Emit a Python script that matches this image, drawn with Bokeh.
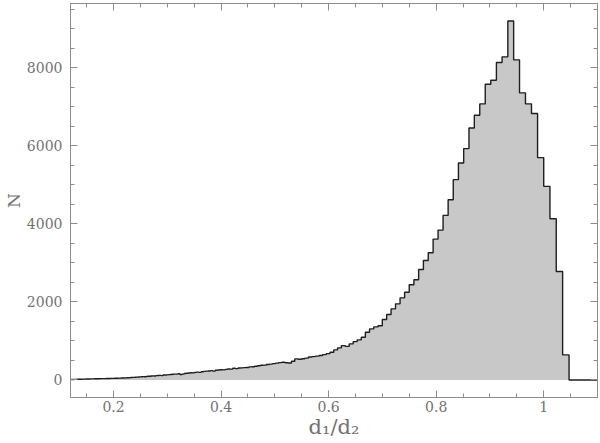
import numpy as np
from bokeh.plotting import figure
from bokeh.models import LinearAxis, FixedTicker, CustomJSTickFormatter
from bokeh.embed import file_html
from bokeh.resources import INLINE

# Histogram bins are uniform in log10(d1/d2)
LOG_BIN_START = -0.925
LOG_BIN_WIDTH = 0.005

counts = [
    10, 11, 12, 11, 13, 13, 14, 15, 14, 16, 16, 17, 18, 17, 19,
    19, 21, 20, 22, 23, 23, 24, 26, 25, 27, 27, 28, 27, 29, 30,
    30, 31, 32, 31, 33, 33, 34, 35, 34, 36, 36, 38, 37, 39, 40,
    40, 42, 44, 43, 46, 47, 49, 51, 50, 54, 55, 58, 60, 63, 65,
    67, 70, 72, 76, 78, 80, 84, 82, 90, 93, 95, 100, 104, 102, 112,
    115, 118, 112, 125, 128, 130, 136, 140, 145, 148, 150, 158, 140, 150, 165,
    170, 178, 185, 182, 195, 200, 195, 210, 220, 225, 230, 238, 226, 250, 255,
    262, 258, 270, 282, 278, 298, 290, 305, 310, 315, 320, 335, 340, 350, 362,
    375, 380, 395, 405, 418, 430, 445, 455, 440, 435, 480, 540, 530, 545, 560,
    590, 598, 610, 625, 650, 675,
    709, 770, 822, 881, 860, 924, 983, 1027, 1094, 1222, 1309, 1360, 1390, 1548,
    1677, 1823, 1951, 2105, 2249, 2439, 2567, 2832, 3063, 3261, 3610, 3841, 4218,
    4621, 5135, 5561, 5931, 6460, 6786, 7076, 7581, 7684, 8138, 8283, 9200, 8206,
    7358, 7076, 6829, 5700, 4963, 4133, 2780, 642,
    0, 0, 0, 0, 0, 0, 0, 0, 0, 0, 0, 0, 0, 0, 0, 0, 0, 0,
]

x_major_ticks = [0.2, 0.4, 0.6, 0.8, 1.0]
x_minor_ticks = [0.15, 0.2, 0.25, 0.3, 0.35, 0.4, 0.45, 0.5, 0.55, 0.6, 0.65,
                 0.7, 0.75, 0.8, 0.85, 0.9, 0.95, 1.0, 1.05]
y_major_ticks = [0, 2000, 4000, 6000, 8000]
y_minor_ticks = [-500, 0, 500, 1000, 1500, 2000, 2500, 3000, 3500, 4000, 4500,
                 5000, 5500, 6000, 6500, 7000, 7500, 8000, 8500, 9000, 9500]

counts = np.array(counts, dtype=float)
edges = 10 ** (LOG_BIN_START + LOG_BIN_WIDTH * np.arange(len(counts) + 1))

TEXT = "#727272"
AXIS = "#8c8c8c"
FONT = "DejaVu Serif"

p = figure(width=600, height=443, x_range=(0.12, 1.1), y_range=(-450, 9650),
           output_backend="svg", toolbar_location=None,
           min_border_left=69, min_border_right=3, min_border_top=3,
           min_border_bottom=46,
           x_axis_location=None, y_axis_location=None)
p.styles = {"position": "absolute", "left": "0px", "top": "0px"}
p.xgrid.grid_line_color = None
p.ygrid.grid_line_color = None
p.outline_line_color = AXIS
p.background_fill_color = "white"
p.border_fill_color = "white"

# filled histogram as one patch
px = np.repeat(edges, 2)
py = np.concatenate([[0], np.repeat(counts, 2), [0]])
p.patch(px, py, fill_color="#c8c8c8", line_color=None)
p.step(x=edges, y=np.append(counts, counts[-1]), mode="after",
       line_color="#1e1e1e", line_width=1.4)

fmt = CustomJSTickFormatter(code="return Math.abs(tick - 1) < 1e-9 ? '1' : tick.toFixed(1);")


def style(ax, labels=True):
    ax.axis_line_color = AXIS
    ax.major_tick_line_color = AXIS
    ax.minor_tick_line_color = AXIS
    ax.major_tick_in = 7
    ax.major_tick_out = 0
    ax.minor_tick_in = 4
    ax.minor_tick_out = 0
    ax.major_label_text_font = FONT
    if labels:
        ax.major_label_text_color = TEXT
        ax.major_label_text_font_size = "14px"
        ax.major_label_standoff = 8
    else:
        ax.major_label_text_color = None
        ax.major_label_text_font_size = "1px"
        ax.major_label_standoff = 0
    ax.axis_label_text_font = FONT
    ax.axis_label_text_color = TEXT
    ax.axis_label_text_font_style = "normal"


xb = LinearAxis(ticker=FixedTicker(ticks=x_major_ticks, minor_ticks=x_minor_ticks),
                formatter=fmt, axis_label="d\u2081/d\u2082")
style(xb)
xb.major_label_standoff = 3
xb.axis_label_text_font_size = "21px"
xb.axis_label_standoff = 0
p.add_layout(xb, "below")

xt = LinearAxis(ticker=FixedTicker(ticks=x_major_ticks, minor_ticks=x_minor_ticks))
style(xt, labels=False)
p.add_layout(xt, "above")

yl = LinearAxis(ticker=FixedTicker(ticks=y_major_ticks, minor_ticks=y_minor_ticks),
                axis_label="N")
style(yl)
yl.axis_label_text_font_size = "17px"
yl.axis_label_standoff = 0
p.add_layout(yl, "left")

yr = LinearAxis(ticker=FixedTicker(ticks=y_major_ticks, minor_ticks=y_minor_ticks))
style(yr, labels=False)
p.add_layout(yr, "right")

open("out.html", "w").write(file_html(p, INLINE))
